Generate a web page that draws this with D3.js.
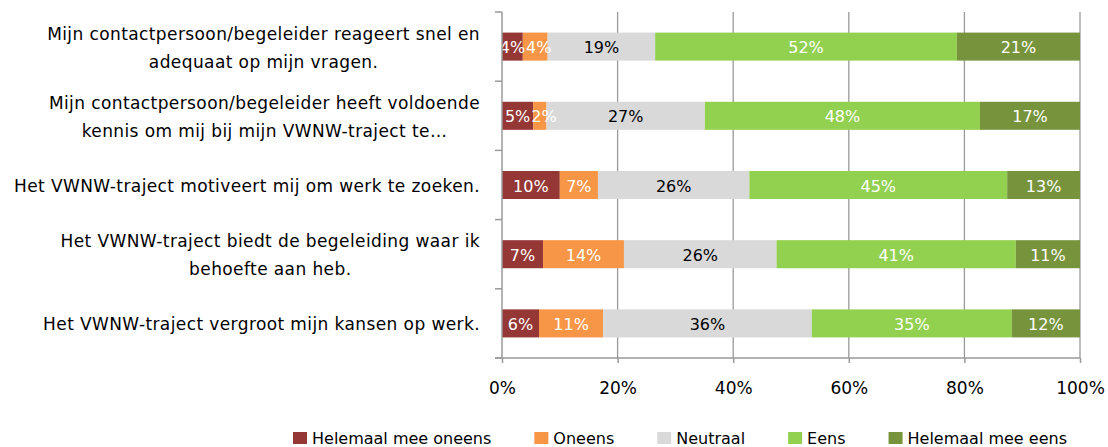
<!DOCTYPE html>
<html>
<head>
<meta charset="utf-8">
<script src="https://cdn.jsdelivr.net/npm/d3@7"></script>
<style>
  body { margin: 0; background: #fff; }
  text { font-family: "DejaVu Sans", sans-serif; }
</style>
</head>
<body>
<script>
// Datos (porcentajes por categoría)
const categorias = [
  "Mijn contactpersoon/begeleider reageert snel en\nadequaat op mijn vragen.",
  "Mijn contactpersoon/begeleider heeft voldoende\nkennis om mij bij mijn VWNW-traject te…",
  "Het VWNW-traject motiveert mij om werk te zoeken.",
  "Het VWNW-traject biedt de begeleiding waar ik\nbehoefte aan heb.",
  "Het VWNW-traject vergroot mijn kansen op werk."
];
const series = ["Helemaal mee oneens", "Oneens", "Neutraal", "Eens", "Helemaal mee eens"];
const helemaalOneens = [3.6, 5.4, 10.0, 7.1, 6.4];
const oneens = [4.3, 2.3, 6.6, 14.0, 11.1];
const neutraal = [18.6, 27.4, 26.2, 26.4, 36.1];
const eens = [52.2, 47.6, 44.6, 41.4, 34.6];
const helemaalEens = [21.3, 17.3, 12.6, 11.1, 11.8];
const ticksX = [0, 20, 40, 60, 80, 100];
const colores = ["#953735", "#F79646", "#D9D9D9", "#92D050", "#77933C"];

const valoresPorSerie = [helemaalOneens, oneens, neutraal, eens, helemaalEens];

// Tabla para d3.stack
const filas = categorias.map((c, i) => {
  const fila = { categoria: c };
  series.forEach((s, j) => fila[s] = valoresPorSerie[j][i]);
  return fila;
});

const ancho = 1108, alto = 447;
const margen = { izq: 502, der: 28, arriba: 12, abajo: 89 };

const svg = d3.select("body")
  .append("svg")
  .attr("width", ancho)
  .attr("height", alto);

const escalaX = d3.scaleLinear()
  .domain([0, 100])
  .range([margen.izq, ancho - margen.der]);

const escalaY = d3.scaleBand()
  .domain(categorias)
  .range([margen.arriba, alto - margen.abajo])
  .paddingInner(0.595)
  .paddingOuter(0.2975);

const escalaColor = d3.scaleOrdinal()
  .domain(series)
  .range(colores);

const apilado = d3.stack().keys(series)(filas);

const gris = "#9a9a9a";
const yArriba = margen.arriba, yAbajo = alto - margen.abajo;

// Líneas de la cuadrícula
svg.append("g")
  .selectAll("line")
  .data(ticksX.slice(1))
  .join("line")
  .attr("x1", d => escalaX(d))
  .attr("x2", d => escalaX(d))
  .attr("y1", yArriba)
  .attr("y2", yAbajo)
  .attr("stroke", gris)
  .attr("stroke-width", 1.3);

// Barras apiladas
const grupos = svg.append("g")
  .selectAll("g")
  .data(apilado)
  .join("g")
  .attr("fill", d => escalaColor(d.key));

grupos.selectAll("rect")
  .data(d => d)
  .join("rect")
  .attr("x", d => escalaX(d[0]))
  .attr("y", d => escalaY(d.data.categoria))
  .attr("width", d => escalaX(d[1]) - escalaX(d[0]))
  .attr("height", escalaY.bandwidth());

// Etiquetas dentro de las barras
const etiquetas = svg.append("g")
  .selectAll("g")
  .data(apilado)
  .join("g")
  .attr("fill", d => d.key === "Neutraal" ? "#000" : "#fff")
  .selectAll("text")
  .data(d => d.map(p => Object.assign(p, { serie: d.key })))
  .join("text")
  .attr("x", d => (escalaX(d[0]) + escalaX(d[1])) / 2)
  .attr("y", d => escalaY(d.data.categoria) + escalaY.bandwidth() / 2 + 1)
  .attr("text-anchor", "middle")
  .attr("dominant-baseline", "central")
  .attr("font-size", 16)
  .text(d => Math.round(d.data[d.serie]) + "%");

// Si dos etiquetas se pisan, la siguiente se corre a la derecha (como Excel)
categorias.forEach(c => {
  let bordePrevio = -Infinity;
  apilado.forEach(capa => {
    const nodo = etiquetas.filter(d => d.data.categoria === c && d.serie === capa.key);
    const medio = nodo.node().getComputedTextLength() / 2;
    let x = +nodo.attr("x");
    if (x - medio < bordePrevio + 1) x = bordePrevio + 1 + medio;
    nodo.attr("x", x);
    bordePrevio = x + medio;
  });
});

// Eje Y: línea y marcas entre categorías
const ejeY = svg.append("g").attr("stroke", gris).attr("stroke-width", 1.5);
ejeY.append("line")
  .attr("x1", escalaX(0)).attr("x2", escalaX(0))
  .attr("y1", yArriba).attr("y2", yAbajo);
const cortes = d3.range(categorias.length + 1).map(i => yArriba + i * escalaY.step());
ejeY.selectAll("line.marca")
  .data(cortes)
  .join("line")
  .attr("class", "marca")
  .attr("x1", escalaX(0) - 7).attr("x2", escalaX(0))
  .attr("y1", d => d).attr("y2", d => d);

// Eje X
const ejeX = svg.append("g")
  .attr("transform", `translate(0, ${yAbajo})`)
  .call(d3.axisBottom(escalaX).tickValues(ticksX).tickSize(5).tickPadding(19).tickFormat(d => d + "%"));
ejeX.selectAll("path, line").attr("stroke", gris).attr("stroke-width", 1.5);
ejeX.select("path").attr("d", `M${escalaX(0) - 7},0H${escalaX(100)}`);
ejeX.selectAll("text")
  .attr("font-family", "DejaVu Sans")
  .attr("font-size", 17)
  .attr("fill", "#000");

// Etiquetas de categoría (varias líneas, centradas en su bloque)
const bordeDerecho = 480;
const altoLinea = 28;
categorias.forEach(c => {
  const lineas = c.split("\n");
  const centro = escalaY(c) + escalaY.bandwidth() / 2 + 1;
  const g = svg.append("g");
  const textos = g.selectAll("text")
    .data(lineas)
    .join("text")
    .attr("y", (d, i) => centro + (i - (lineas.length - 1) / 2) * altoLinea)
    .attr("dominant-baseline", "central")
    .attr("text-anchor", "middle")
    .attr("font-size", 17)
    .attr("letter-spacing", 0.4)
    .attr("fill", "#000")
    .text(d => d);
  const maxAncho = d3.max(textos.nodes(), n => n.getComputedTextLength());
  textos.attr("x", bordeDerecho - maxAncho / 2);
});

// Leyenda
const leyenda = svg.append("g").attr("transform", "translate(293, 438)");
let posX = 0;
series.forEach(s => {
  const item = leyenda.append("g").attr("transform", `translate(${posX}, 0)`);
  item.append("rect")
    .attr("x", 0).attr("y", -6)
    .attr("width", 14).attr("height", 12)
    .attr("fill", escalaColor(s));
  const t = item.append("text")
    .attr("x", 19)
    .attr("dominant-baseline", "central")
    .attr("font-size", 16)
    .attr("fill", "#000")
    .text(s);
  posX += 19 + t.node().getComputedTextLength() + 43;
});
</script>
</body>
</html>
